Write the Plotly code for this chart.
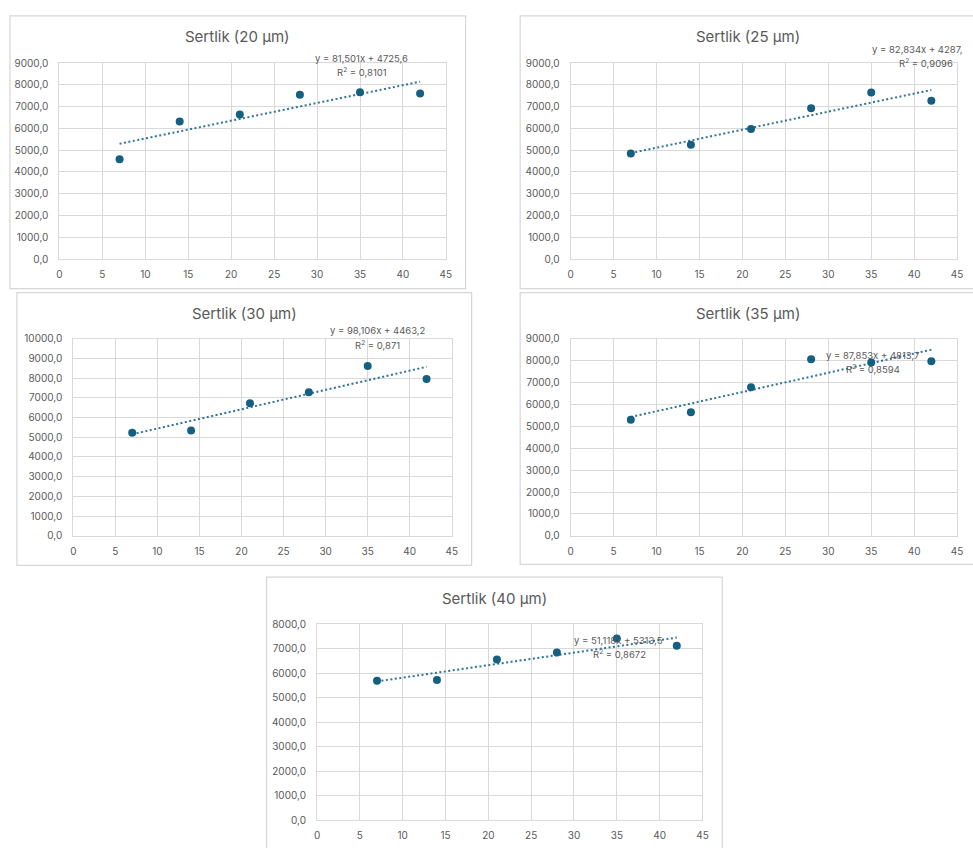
import plotly.graph_objects as go

W, H = 973, 848

# Sampling days (x) shared by all five panels
days = [7, 14, 21, 28, 35, 42]

# Hardness readings per coating thickness
titles = ["Sertlik (20 µm)", "Sertlik (25 µm)", "Sertlik (30 µm)", "Sertlik (35 µm)", "Sertlik (40 µm)"]
hard_20 = [4590, 6320, 6640, 7545, 7665, 7605]
hard_25 = [4850, 5255, 5980, 6930, 7650, 7275]
hard_30 = [5225, 5345, 6730, 7290, 8620, 7960]
hard_35 = [5300, 5650, 6790, 8070, 7920, 7980]
hard_40 = [5700, 5725, 6570, 6850, 7425, 7130]

# Linear trendline coefficients (slope, intercept) and R²
slopes = [81.501, 82.834, 98.106, 87.853, 51.118]
intercepts = [4725.6, 4287.0, 4463.2, 4813.7, 5313.5]
eq_labels = ["y = 81,501x + 4725,6", "y = 82,834x + 4287,", "y = 98,106x + 4463,2",
             "y = 87,853x + 4813,7", "y = 51,118x + 5313,5"]
r2_labels = ["0,8101", "0,9096", "0,871", "0,8594", "0,8672"]
y_max = [9000, 9000, 10000, 9000, 8000]

series = [hard_20, hard_25, hard_30, hard_35, hard_40]

# Panel geometry in pixels: chart box (x0, y0, x1, y1), plot area (x0, y0, x1, y1)
boxes = [(7, 9, 467, 286), (522, 9, 985, 286), (14, 290, 473, 567),
         (522, 290, 985, 566), (266, 579, 726, 860)]
plots = [(57, 57, 447, 256), (573, 57, 963, 256), (71, 337, 453, 537),
         (573, 337, 963, 537), (317, 627, 706, 826)]
title_y = [30, 30, 311, 311, 601]
eq_pos = [(362, 52, "center"), (971, 43, "right"), (378, 329, "center"),
          (878, 354, "center"), (621, 643, "center")]
r2_pos = [(362, 66, "center"), (932, 57, "center"), (378, 343, "center"),
          (878, 368, "center"), (622, 657, "center")]

ACCENT = "#156082"
TREND = "#2E7398"
GRID = "#D9D9D9"
TXT = "#595959"
FONT = "Inter, Roboto, Arial, sans-serif"


def px(x, y):
    return x / W, 1 - y / H


fig = go.Figure()
shapes, annotations = [], []

for i in range(5):
    n = "" if i == 0 else str(i + 1)
    xa, ya = "x" + n, "y" + n
    bx0, by0, bx1, by1 = boxes[i]
    p0, p1 = px(bx0, by1), px(bx1, by0)
    shapes.append(dict(type="rect", xref="paper", yref="paper", x0=p0[0], y0=p0[1],
                       x1=p1[0], y1=p1[1], line=dict(color="#D6D6D6", width=1.2),
                       fillcolor="white", layer="below"))

    lx0, ly0, lx1, ly1 = plots[i]
    d0, d1 = px(lx0, ly1), px(lx1, ly0)
    axis_common = dict(showgrid=True, gridcolor=GRID, gridwidth=1.2, zeroline=False,
                       showline=True, linecolor=GRID, linewidth=1.2, mirror=True, ticks="",
                       tickfont=dict(family=FONT, size=10, color=TXT))
    fig.update_layout(**{
        ("xaxis" + n): dict(domain=[d0[0], d1[0]], range=[0, 45], dtick=5, tick0=0,
                            anchor=ya, ticklabelstandoff=6, **axis_common),
        ("yaxis" + n): dict(domain=[d0[1], d1[1]], range=[0, y_max[i]], dtick=1000,
                            tick0=0, tickformat=".1f", anchor=xa, ticklabelstandoff=8,
                            **axis_common),
    })

    # Dotted linear trendline from the fitted equation
    tx = [days[0], days[-1]]
    ty = [slopes[i] * v + intercepts[i] for v in tx]
    fig.add_trace(go.Scatter(x=tx, y=ty, mode="lines", xaxis=xa, yaxis=ya,
                             line=dict(color=TREND, width=2, dash="2px,2.5px"),
                             showlegend=False, hoverinfo="skip"))
    fig.add_trace(go.Scatter(x=days, y=series[i], mode="markers", xaxis=xa, yaxis=ya,
                             marker=dict(color=ACCENT, size=8), showlegend=False))

    tcx = (bx0 + min(bx1, W)) / 2 if i not in (1, 3) else 752
    tp = px(tcx, title_y[i])
    annotations.append(dict(text=titles[i], xref="paper", yref="paper", x=tp[0], y=tp[1],
                            showarrow=False, xanchor="center", yanchor="middle",
                            font=dict(family=FONT, size=15, color=TXT)))
    ex, ey, ea = eq_pos[i]
    ep = px(ex, ey)
    annotations.append(dict(text=eq_labels[i], xref="paper", yref="paper", x=ep[0], y=ep[1],
                            showarrow=False, xanchor=ea, yanchor="middle",
                            font=dict(family=FONT, size=9.5, color=TXT)))
    rx, ry, ra = r2_pos[i]
    rp = px(rx, ry)
    annotations.append(dict(text="R<sup>2</sup> = " + r2_labels[i], xref="paper", yref="paper",
                            x=rp[0], y=rp[1], showarrow=False, xanchor=ra, yanchor="middle",
                            font=dict(family=FONT, size=9.5, color=TXT)))

fig.update_layout(width=W, height=H, margin=dict(l=0, r=0, t=0, b=0),
                  paper_bgcolor="white", plot_bgcolor="rgba(0,0,0,0)",
                  separators=",.", shapes=shapes, annotations=annotations)

fig.write_html("out.html")
